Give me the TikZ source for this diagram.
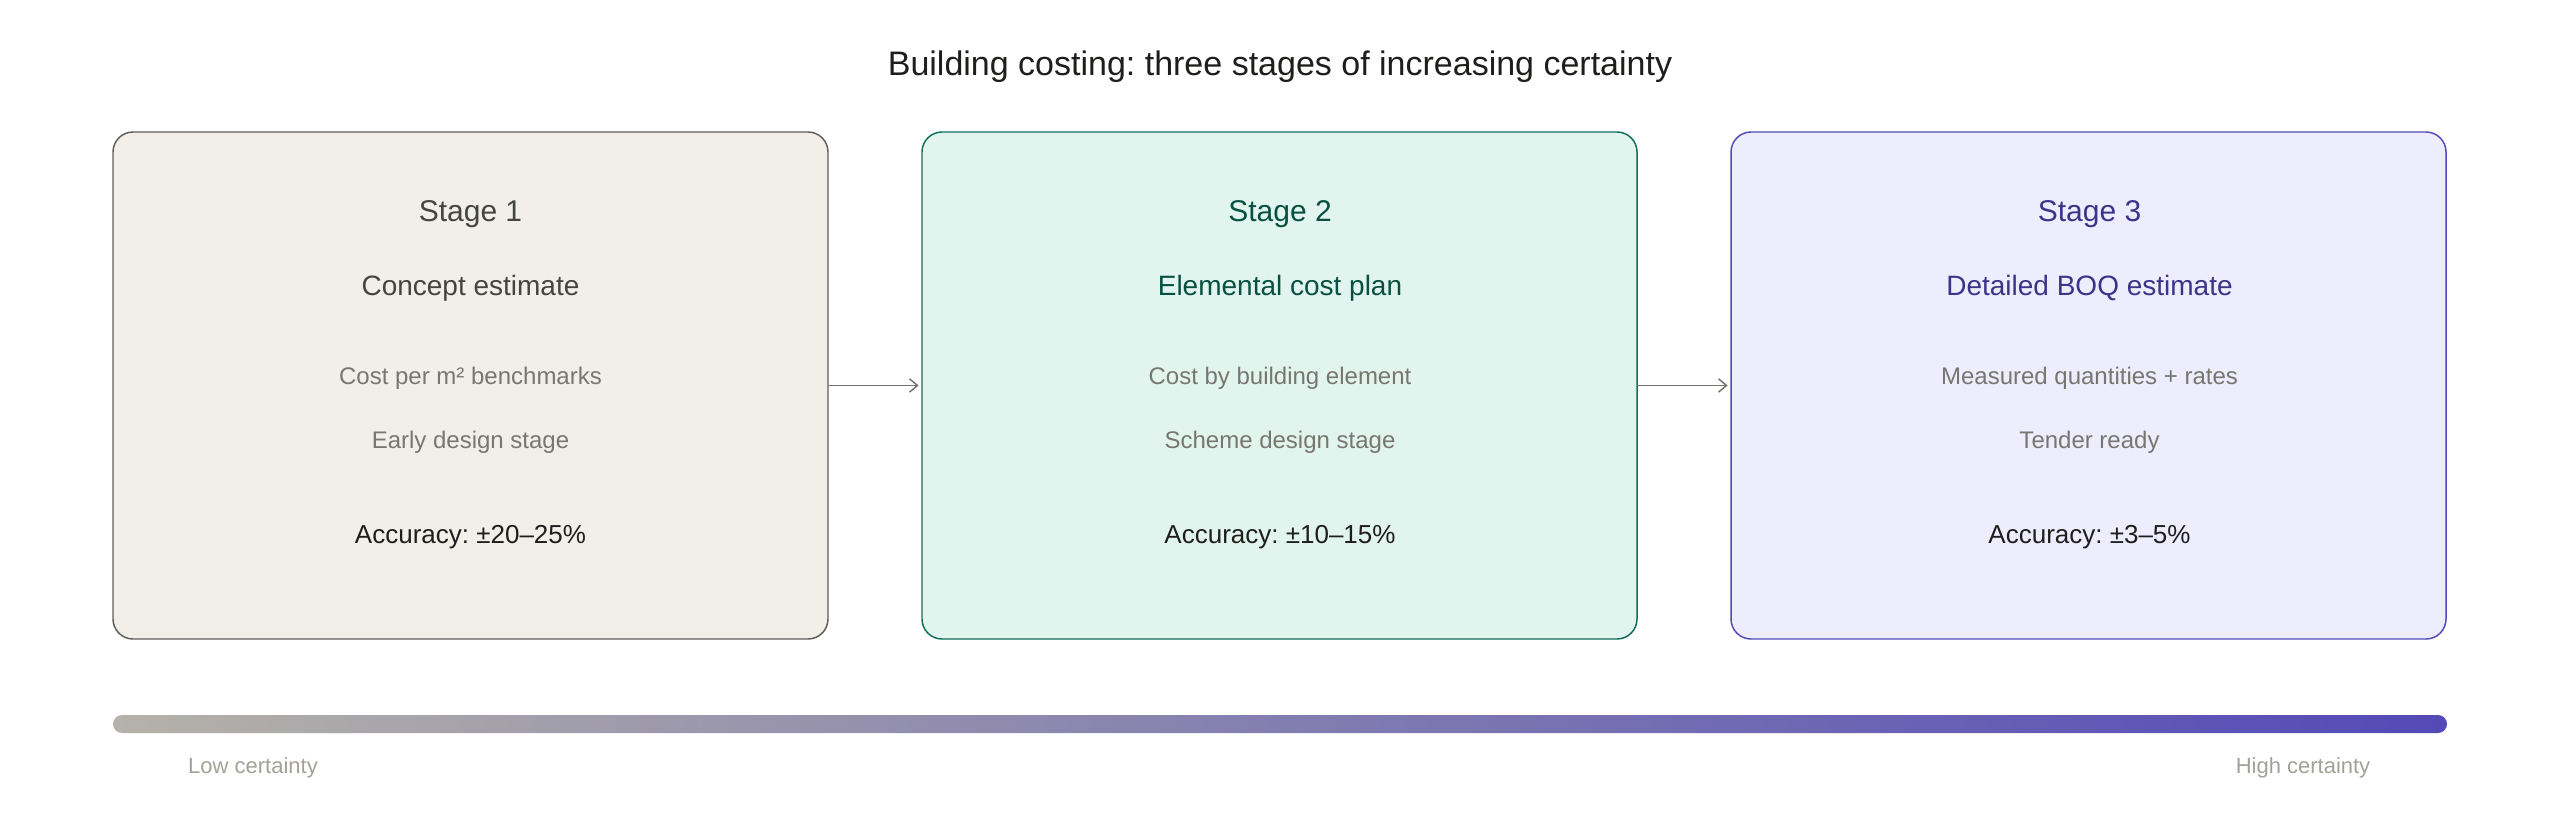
\documentclass[tikz,border=0pt]{standalone}
\usepackage{fontspec}
\setmainfont{Liberation Sans}
\frenchspacing
\usetikzlibrary{arrows.meta,positioning}
\definecolor{gray50}{HTML}{F1EFE8}
\definecolor{gray200}{HTML}{B4B2A9}
\definecolor{gray400}{HTML}{888780}
\definecolor{gray600}{HTML}{5F5E5A}
\definecolor{gray800}{HTML}{444441}
\definecolor{ink}{HTML}{1F1E1C}
\definecolor{subgray}{RGB}{120,118,112}
\definecolor{endgray}{HTML}{A3A098}
\definecolor{teal50}{HTML}{E1F5EE}
\definecolor{teal600}{HTML}{0F6E56}
\definecolor{teal800}{HTML}{085041}
\definecolor{purple50}{HTML}{EEEDFE}
\definecolor{purple600}{HTML}{534AB7}
\definecolor{purple800}{HTML}{3C3489}

\begin{document}
\begin{tikzpicture}
              [x=0.75pt,y=-0.75pt,
                every node/.style={inner sep=0pt,outer sep=0pt,anchor=base},
                stagebox/.style={draw,anchor=center,rounded corners=15pt,line width=1.1pt,
                  minimum width=536.25pt,minimum height=380.25pt},
                heading/.style={font=\fontsize{22.5}{27}\selectfont},
                stagename/.style={font=\fontsize{21}{25}\selectfont},
                detail/.style={font=\fontsize{18}{22}\selectfont,text=subgray},
                accuracy/.style={font=\fontsize{19.5}{23}\selectfont,text=ink},
                endlabel/.style={font=\fontsize{16.5}{20}\selectfont,text=endgray},
                flow/.style={draw=gray400!85!black,line width=1.1pt,shorten >=2.5pt,
                  -{Straight Barb[length=6pt,width=10pt,line width=1.1pt]}}]
              \useasboundingbox (0,0) rectangle (2560,828);
              \node[font=\fontsize{25.5}{30}\selectfont,text=ink] (title) at (1280,75)
                {Building costing: three stages of increasing certainty};
              % the three stages
              \node[stagebox,draw=gray600,fill=gray50] (st1) at (470.5,385.5) {};
              \node[stagebox,draw=teal600,fill=teal50] (st2) [right=70.5pt of st1] {};
              \node[stagebox,draw=purple600,fill=purple50] (st3) [right=70.5pt of st2] {};
              \node[heading,text=gray800] (hd1) at (470.5,221) {Stage 1};
              \node[stagename,text=gray800] (nm1) at (470.5,295) {Concept estimate};
              \node[detail] (dt1a) at (470.5,384) {Cost per m² benchmarks};
              \node[detail] (dt1b) at (470.5,448) {Early design stage};
              \node[accuracy] (acc1) at (470.5,543) {Accuracy: ±20–25\%};
              \node[heading,text=teal800] (hd2) at (1280,221) {Stage 2};
              \node[stagename,text=teal800] (nm2) at (1280,295) {Elemental cost plan};
              \node[detail] (dt2a) at (1280,384) {Cost by building element};
              \node[detail] (dt2b) at (1280,448) {Scheme design stage};
              \node[accuracy] (acc2) at (1280,543) {Accuracy: ±10–15\%};
              \node[heading,text=purple800] (hd3) at (2089.5,221) {Stage 3};
              \node[stagename,text=purple800] (nm3) at (2089.5,295) {Detailed BOQ estimate};
              \node[detail] (dt3a) at (2089.5,384) {Measured quantities + rates};
              \node[detail] (dt3b) at (2089.5,448) {Tender ready};
              \node[accuracy] (acc3) at (2089.5,543) {Accuracy: ±3–5\%};
              \foreach \from/\to in {st1/st2,st2/st3}
              \draw[flow] (\from) -- (\to);
              % certainty scale
              \node[anchor=center,minimum width=1750.5pt,minimum height=13.5pt,rounded corners=6.75pt,
                left color=gray200,right color=purple600] (scale) at (1280,724) {};
              \node[endlabel] (low) at (253,773) {Low certainty};
              \node[endlabel] (high) at (2303,773) {High certainty};
            \end{tikzpicture}
\end{document}
